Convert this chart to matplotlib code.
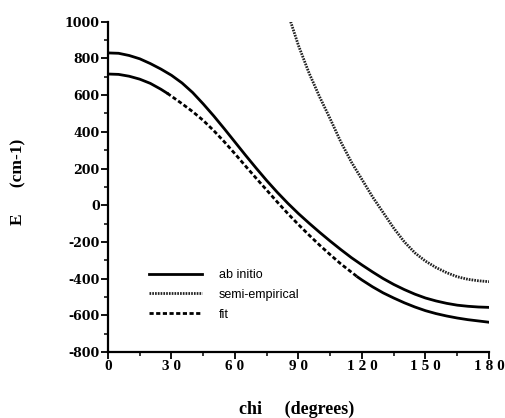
import numpy as np
import matplotlib.pyplot as plt
from matplotlib.ticker import MultipleLocator

plt.rcParams['axes.unicode_minus'] = False

# ab initio (upper curve)
chi_ab = [0, 5, 10, 15, 20, 25, 30, 35, 40, 45, 50, 55, 60, 65, 70, 75, 80, 85, 90,
          95, 100, 105, 110, 115, 120, 125, 130, 135, 140, 145, 150, 155, 160, 165, 170, 175, 180]
e_ab = [830, 828, 816, 798, 772, 742, 708, 666, 614, 552, 486, 416, 344, 272, 202, 134, 70, 10, -46,
        -98, -148, -196, -242, -286, -326, -364, -400, -432, -460, -485, -506, -522, -535, -545, -551, -555, -557]

# lower ab initio curve, only visible where the fit does not lie on it
chi_low = [0, 5, 10, 15, 20, 25, 28, np.nan, 118, 120, 125, 130, 135, 140, 145, 150, 155, 160, 165, 170, 175, 180]
e_low = [715, 713, 703, 687, 664, 632, 610, np.nan, -392, -408, -445, -478, -506, -532, -555, -575, -591, -604, -615, -624, -631, -638]

# semi-empirical
chi_se = [86.3, 90, 95, 100, 105, 110, 115, 120, 125, 130, 135, 140, 145, 150, 155, 160, 165, 170, 175, 180]
e_se = [1000, 870, 720, 590, 470, 345, 235, 140, 45, -40, -125, -200, -260, -305, -340, -368, -390, -404, -412, -417]

# fit
chi_fit = [28, 30, 35, 40, 45, 50, 55, 60, 65, 70, 75, 80, 85, 90, 95, 100, 105, 110, 115, 118]
e_fit = [610, 594, 553, 510, 462, 406, 345, 280, 213, 147, 82, 17, -46, -106, -163, -218, -270, -320, -365, -392]

xticks = [0, 30, 60, 90, 120, 150, 180]
xticklabels = ['0', '3 0', '6 0', '9 0', '1 2 0', '1 5 0', '1 8 0']
yticks = [-800, -600, -400, -200, 0, 200, 400, 600, 800, 1000]

serif = 'Liberation Serif'

fig = plt.figure(figsize=(5.06, 4.18), dpi=100)
ax = fig.add_axes([0.2134, 0.158, 0.753, 0.79])

ax.plot(chi_ab, e_ab, color='black', lw=2.0, label='ab initio')
ax.plot(chi_se, e_se, color='#222222', lw=2.0, ls=(0, (0.6, 0.4)), label='semi-empirical')
ax.plot(chi_fit, e_fit, color='black', lw=2.0, ls=(0, (1.5, 0.9)), label='fit')
ax.plot(chi_low, e_low, color='black', lw=2.0)

ax.set_xlim(0, 180)
ax.set_ylim(-800, 1000)
ax.set_xticks(xticks)
ax.set_xticklabels(xticklabels)
ax.set_yticks(yticks)
ax.xaxis.set_minor_locator(MultipleLocator(15))
ax.yaxis.set_minor_locator(MultipleLocator(100))

for s in ['top', 'right']:
    ax.spines[s].set_visible(False)
for s in ['left', 'bottom']:
    ax.spines[s].set_linewidth(1.6)

ax.tick_params(which='major', length=5, width=1.3, direction='out')
ax.tick_params(which='minor', length=3, width=1.1, direction='out')
ax.tick_params(axis='y', pad=1)
ax.tick_params(axis='x', pad=1)
for lab in ax.get_xticklabels():
    lab.set_fontfamily(serif)
    lab.set_fontweight('bold')
    lab.set_fontsize(11)
for lab in ax.get_yticklabels():
    lab.set_fontfamily('DejaVu Serif')
    lab.set_fontweight('bold')
    lab.set_fontsize(9)

fig.text(297 / 506, 1 - 409 / 418, 'chi     (degrees)', family=serif, fontweight='bold',
         fontsize=13, ha='center', va='center')
fig.text(18 / 506, 1 - 182 / 418, 'E      (cm-1)', family=serif, fontweight='bold',
         fontsize=12.5, ha='center', va='center', rotation=90)

leg = ax.legend(loc='upper left', bbox_to_anchor=(0.079, 0.285), frameon=False,
                handlelength=4.25, handletextpad=1.3, labelspacing=0.62,
                prop={'family': 'Liberation Sans', 'size': 9})

fig.savefig('out.png', dpi=100)
